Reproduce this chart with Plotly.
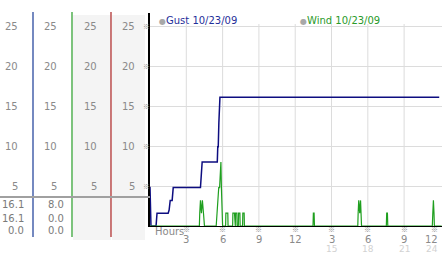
import plotly.graph_objects as go

# ---------------- data ----------------
series_names = ["Gust 10/23/09", "Wind 10/23/09"]

gust_hours = [0, 0.08, 0.5, 0.58, 1.5, 1.58, 1.67, 1.83, 1.92, 4.17, 4.31,
              5.56, 5.6, 5.64, 5.69, 5.78, 23.9]
gust_vals = [4.9, 0, 0, 1.6, 1.6, 2.0, 3.2, 3.2, 4.8, 4.8, 8.0,
             8.0, 9.9, 9.9, 12.9, 16.1, 16.1]

wind_hours = [0, 4.08, 4.11, 4.17, 4.25, 4.33, 4.42, 4.5,
              5.47, 5.53, 5.6, 5.68, 5.75, 5.86, 5.9, 5.95, 6.0,
              6.25, 6.27, 6.43, 6.45,
              6.83, 6.85, 6.98, 7.0,
              7.05, 7.07, 7.18, 7.2,
              7.3, 7.32, 7.43, 7.45,
              7.65, 7.67, 7.78, 7.8,
              13.47, 13.5, 13.56, 13.59,
              17.17, 17.2, 17.25, 17.33, 17.4, 17.48,
              19.53, 19.56, 19.62, 19.65,
              23.33, 23.37, 23.42, 23.47, 23.5,
              24.1]
wind_vals = [0, 0, 1.6, 3.2, 1.6, 3.2, 1.6, 0,
             0, 1.6, 3.2, 4.8, 4.8, 8.0, 4.8, 1.6, 0,
             0, 1.6, 1.6, 0,
             0, 1.6, 1.6, 0,
             0, 1.6, 1.6, 0,
             0, 1.6, 1.6, 0,
             0, 1.6, 1.6, 0,
             0, 1.6, 1.6, 0,
             0, 1.6, 3.2, 1.6, 3.2, 0,
             0, 1.6, 1.6, 0,
             0, 1.6, 3.2, 1.6, 0,
             0]

y_ticks = [5, 10, 15, 20, 25]
hour_ticks = [3, 6, 9, 12, 15, 18, 21, 24]
hour_labels = ["3", "6", "9", "12", "3", "6", "9", "12"]
hour_labels2 = ["", "", "", "", "15", "18", "21", "24"]

gust_stats = ["16.1", "16.1", "0.0"]
wind_stats = ["8.0", "0.0", "0.0"]

# ---------------- layout helpers ----------------
W, H = 442, 253
ML, MR, MT, MB = 0, 0, 13, 27
PW, PH = W - ML - MR, H - MT - MB
AXIS_X = 150            # pixel of the main y axis
Y0_PX = H - MB          # pixel of y = 0
PX_PER_UNIT = 8.0
X_MAX = 24.13


def px(x):
    return (x - ML) / PW


def py(y):
    return (Y0_PX - y) / PH


FONT = "DejaVu Sans"
MARK_FONT = "Noto Sans CJK JP"
LABEL_GRAY = "#8a8a8a"
GUST_COLOR = "#0d0d80"
WIND_COLOR = "#1f9f1f"
MARK = "※"

fig = go.Figure()
fig.add_trace(go.Scatter(x=gust_hours, y=gust_vals, mode="lines",
                         line=dict(color=GUST_COLOR, width=1.5),
                         name=series_names[0], hoverinfo="skip"))
fig.add_trace(go.Scatter(x=wind_hours, y=wind_vals, mode="lines",
                         line=dict(color=WIND_COLOR, width=1.2),
                         name=series_names[1], hoverinfo="skip"))

shapes = []
# shaded columns on the left panel
for x0, x1 in [(73, 111), (112, 145)]:
    shapes.append(dict(type="rect", xref="paper", yref="paper",
                       x0=px(x0), x1=px(x1), y0=py(240), y1=py(15),
                       fillcolor="#f4f4f4", line=dict(width=0), layer="below"))
# coloured column separators
for xx, col in [(33, "#2a4a9e"), (72, "#36a336"), (111, "#b03232")]:
    shapes.append(dict(type="line", xref="paper", yref="paper",
                       x0=px(xx), x1=px(xx), y0=py(237), y1=py(12),
                       line=dict(color=col, width=1.3)))
# grey separator between scale and values
shapes.append(dict(type="line", xref="paper", yref="paper",
                   x0=0, x1=px(AXIS_X), y0=py(197), y1=py(197),
                   line=dict(color="#a0a0a0", width=2)))
# vertical grid lines
for h in hour_ticks[:-1]:
    shapes.append(dict(type="line", xref="x", yref="y",
                       x0=h, x1=h, y0=0, y1=25.25,
                       line=dict(color="#dcdcdc", width=1), layer="below"))

ann = []
# legend
for name, col, xl in [(series_names[0], "#1f2f9a", 157), (series_names[1], "#2a9a2a", 298)]:
    ann.append(dict(xref="paper", yref="paper", x=px(xl), y=py(20.5),
                    xanchor="left", yanchor="middle", showarrow=False,
                    text="<span style='color:#a8a8a8;font-size:8px'>●</span>" + name,
                    font=dict(family=FONT, size=10, color=col)))
# left scale labels (4 columns)
for right in [20, 59, 99, 137]:
    for v in y_ticks:
        ann.append(dict(xref="paper", yref="y", x=px(right), y=v,
                        xanchor="right", yanchor="middle", showarrow=False,
                        text=str(v), font=dict(family=FONT, size=10, color=LABEL_GRAY)))
for v in y_ticks:
    ann.append(dict(xref="paper", yref="y", x=px(146), y=v,
                    xanchor="center", yanchor="middle", showarrow=False,
                    text=MARK, font=dict(family=MARK_FONT, size=7, color="#8a8a8a")))
# stats values
for stats, right in [(gust_stats, 26), (wind_stats, 66)]:
    for s, ypx in zip(stats, [204, 218, 231]):
        ann.append(dict(xref="paper", yref="paper", x=px(right), y=py(ypx),
                        xanchor="right", yanchor="middle", showarrow=False,
                        text=s, font=dict(family=FONT, size=10, color="#7a7a7a")))
# x axis labels
ann.append(dict(xref="paper", yref="paper", x=px(153), y=0, yshift=-5.5,
                xanchor="left", yanchor="middle", showarrow=False,
                text="Hours", font=dict(family=FONT, size=10, color=LABEL_GRAY)))
for i, (h, t1, t2) in enumerate(zip(hour_ticks, hour_labels, hour_labels2)):
    xa = "right" if i == len(hour_ticks) - 1 else "center"
    ann.append(dict(xref="x", yref="paper", x=h, y=0, yshift=-3,
                    xanchor=xa, yanchor="middle", showarrow=False,
                    text=MARK, font=dict(family=MARK_FONT, size=7, color="#8a8a8a")))
    ann.append(dict(xref="x", yref="paper", x=h, y=0, yshift=-13,
                    xanchor=xa, yanchor="middle", showarrow=False,
                    text=t1, font=dict(family=FONT, size=10, color=LABEL_GRAY)))
    if t2:
        ann.append(dict(xref="x", yref="paper", x=h, y=0, yshift=-23,
                        xanchor=xa, yanchor="middle", showarrow=False,
                        text=t2, font=dict(family=FONT, size=9, color="#d2d2d2")))

fig.update_layout(
    width=W, height=H,
    margin=dict(l=ML, r=MR, t=MT, b=MB, pad=0),
    paper_bgcolor="white", plot_bgcolor="rgba(0,0,0,0)",
    showlegend=False,
    shapes=shapes, annotations=ann,
    xaxis=dict(domain=[px(AXIS_X), 1], range=[0, X_MAX], showgrid=False,
               zeroline=False, showline=True, linecolor="black", linewidth=1.2,
               showticklabels=False, ticks="", fixedrange=True),
    yaxis=dict(range=[0, (Y0_PX - MT) / PX_PER_UNIT], tickvals=y_ticks,
               showgrid=True, gridcolor="#dcdcdc", gridwidth=1,
               zeroline=False, showline=True, linecolor="black", linewidth=1.5,
               showticklabels=False, ticks="", fixedrange=True),
)

fig.write_html("out.html")
